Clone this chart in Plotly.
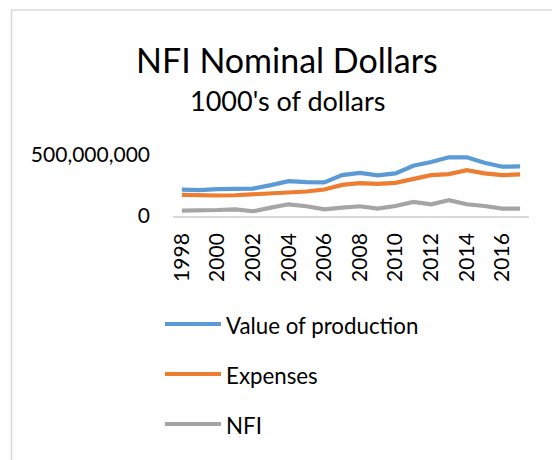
import plotly.graph_objects as go

years = list(range(1998, 2018))
value_of_production = [217e6, 212e6, 220e6, 222e6, 225e6, 253e6, 286e6, 278e6, 275e6, 335e6,
                       354e6, 333e6, 349e6, 412e6, 442e6, 481e6, 481e6, 437e6, 404e6, 407e6]
expenses = [173e6, 168e6, 168e6, 170e6, 176e6, 184e6, 195e6, 201e6, 217e6, 255e6,
            269e6, 264e6, 272e6, 300e6, 335e6, 343e6, 376e6, 349e6, 335e6, 341e6]
nfi = [44e6, 44e6, 49e6, 55e6, 39e6, 69e6, 96e6, 80e6, 55e6, 69e6,
       80e6, 61e6, 82e6, 115e6, 96e6, 129e6, 96e6, 82e6, 61e6, 61e6]
series_names = ["Value of production", "Expenses", "NFI"]
colors = ["#5B9BD5", "#ED7D31", "#A5A5A5"]
x_tick_years = years[::2]
y_tick_vals = [0, 500_000_000]

W, H = 552, 460
L, R, T, B = 173, 529, 155, 216  # plot area in pixels

def px(x):
    return (x - L) / (R - L)

def py(y):
    return (B - y) / (B - T)

FONT = "Lato"

fig = go.Figure()
for name, vals, col in zip(series_names, [value_of_production, expenses, nfi], colors):
    fig.add_trace(go.Scatter(x=years, y=vals, mode="lines", name=name,
                             line=dict(color=col, width=4.2), showlegend=False))

shapes = []
annotations = []
# chart border
shapes.append(dict(type="rect", xref="paper", yref="paper",
                   x0=px(11.5), x1=px(600), y0=py(500), y1=py(10),
                   line=dict(color="#d9d9d9", width=1.5), fillcolor="rgba(0,0,0,0)", layer="below"))
# custom legend
leg_y = [324, 374, 424]
for name, col, yy in zip(series_names, colors, leg_y):
    shapes.append(dict(type="line", xref="paper", yref="paper",
                       x0=px(165), x1=px(221), y0=py(yy), y1=py(yy),
                       line=dict(color=col, width=4.2)))
    annotations.append(dict(text=name, xref="paper", yref="paper", x=px(224), y=py(yy + 1),
                            xanchor="left", yanchor="middle", showarrow=False,
                            font=dict(family=FONT, size=22.3, color="#000000")))
# title and subtitle
annotations.append(dict(text="NFI Nominal Dollars", xref="paper", yref="paper",
                        x=px(287), y=py(59), xanchor="center", yanchor="middle", showarrow=False,
                        font=dict(family=FONT, size=34, color="#000000")))
annotations.append(dict(text="1000's of dollars", xref="paper", yref="paper",
                        x=px(287), y=py(100), xanchor="center", yanchor="middle", showarrow=False,
                        font=dict(family=FONT, size=27, color="#000000")))

fig.update_layout(
    width=W, height=H,
    margin=dict(l=L, r=W - R, t=T, b=H - B, pad=0),
    paper_bgcolor="white", plot_bgcolor="white",
    font=dict(family=FONT, color="#000000"),
    shapes=shapes, annotations=annotations,
    xaxis=dict(type="category", range=[-0.5, len(years) - 0.5],
               tickmode="array", tickvals=x_tick_years, ticktext=[str(y) for y in x_tick_years],
               tickangle=-90, tickfont=dict(family=FONT, size=21, color="#000000"),
               showgrid=False, showline=True, linecolor="#d9d9d9", linewidth=1.5,
               ticks="", ticklabelstandoff=7, zeroline=False),
    yaxis=dict(range=[0, 500_000_000], tickmode="array", tickvals=y_tick_vals,
               tickformat=",", tickfont=dict(family=FONT, size=21, color="#000000"),
               showgrid=True, gridcolor="#d9d9d9", gridwidth=1.5,
               showline=False, zeroline=False, ticks="", ticklabelstandoff=22),
)

fig.write_html("out.html")
